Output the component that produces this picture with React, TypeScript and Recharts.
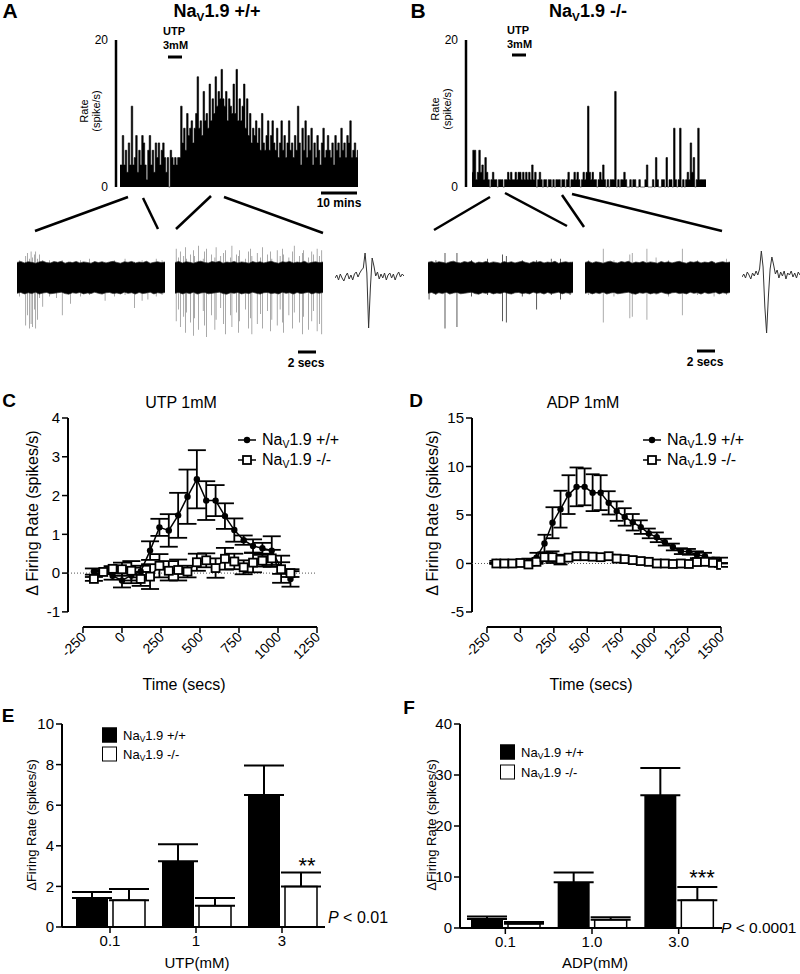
import React from 'react';
import {
  AreaChart,
  Area,
  ComposedChart,
  BarChart,
  Bar,
  LineChart,
  Line,
  XAxis,
  YAxis,
  ErrorBar,
  ReferenceLine,
} from 'recharts';

// ---- A / B : rate histograms (spike/s per bin) ----
const histA = [
  3, 3, 7, 3, 5, 2, 6, 3, 11, 3, 4, 7, 2, 5, 3, 7, 6, 3, 1, 5,
  7, 3, 5, 2, 6, 4, 6, 3, 5, 6, 4, 2, 4, 0, 5, 4, 3, 4, 3, 4,
  4, 11, 6, 8, 5, 10, 7, 8, 9, 6, 8, 10, 15, 8, 9, 7, 13, 9, 10, 8,
  14, 9, 12, 10, 15, 11, 13, 12, 16, 12, 11, 13, 9, 12, 11, 10, 14, 10, 16, 9,
  12, 9, 11, 14, 8, 12, 7, 10, 6, 8, 7, 9, 6, 8, 5, 10, 6, 5, 7, 9,
  5, 7, 9, 6, 5, 8, 4, 6, 9, 5, 7, 4, 6, 9, 5, 6, 4, 7, 5, 11,
  6, 3, 8, 5, 9, 4, 7, 5, 8, 3, 6, 4, 7, 5, 3, 6, 8, 4, 5, 7,
  5, 4, 6, 3, 7, 5, 6, 4, 8, 5, 6, 4, 7, 6, 9, 4, 5, 6, 4, 5,
];

const histB = [
  2, 5, 5, 1, 2, 5, 2, 3, 1, 4, 2, 1, 0, 1, 2, 1, 1, 0, 1, 1,
  1, 0, 1, 1, 2, 1, 2, 1, 1, 2, 1, 2, 2, 1, 2, 1, 2, 1, 2, 1,
  3, 1, 2, 0, 1, 2, 1, 0, 1, 1, 0, 1, 1, 0, 1, 0, 1, 1, 1, 0,
  1, 1, 0, 1, 2, 0, 1, 1, 2, 1, 2, 1, 0, 1, 2, 1, 2, 11, 2, 1,
  2, 1, 1, 0, 1, 2, 1, 3, 1, 0, 1, 0, 1, 1, 1, 13, 0, 1, 0, 1,
  1, 2, 1, 0, 0, 1, 0, 1, 1, 0, 0, 1, 0, 0, 0, 1, 3, 0, 0, 0,
  1, 0, 4, 1, 0, 0, 1, 1, 0, 4, 0, 1, 1, 0, 8, 1, 0, 1, 8, 0,
  1, 0, 1, 2, 1, 6, 2, 4, 0, 1, 8, 1, 1, 1, 1, 1,
];

// ---- raw traces: noise envelope every 0.5 s, spikes as [time (s), low, high] ----
const edgeHi = [
  1.05, 1.12, 1.02, 1.1, 1.06, 1.0, 1.09, 1.14, 1.04, 1.02, 1.11, 1.06, 1.13, 1.0, 1.08, 1.04, 1.12, 1.02, 1.09, 1.05,
  1.0, 1.11, 1.04, 1.1, 1.02, 1.08, 1.13, 1.05, 1.0, 1.1, 1.06, 1.12, 1.02, 1.08, 1.04, 1.13, 1.0, 1.06, 1.1, 1.04, 1.08,
];
const edgeLo = [
  -1.08, -1.02, -1.12, -1.04, -1.1, -1.0, -1.13, -1.06, -1.02, -1.11, -1.08, -1.04, -1.0, -1.1, -1.14, -1.04, -1.08, -1.02, -1.12, -1.06,
  -1.1, -1.0, -1.08, -1.13, -1.04, -1.02, -1.1, -1.06, -1.12, -1.0, -1.08, -1.04, -1.13, -1.02, -1.1, -1.06, -1.0, -1.12, -1.04, -1.08, -1.02,
];
const spikesA1 = [
  [0.3, -1.3, 1.2], [1.2, -3.3, 1.5], [1.45, -2.6, 1.7], [1.7, -3.5, 1.3], [1.9, -3.2, 1.8],
  [2.1, -3.4, 1.4], [2.35, -2.2, 1.6], [2.55, -3.5, 1.8], [2.8, -2.9, 1.3], [3.0, -1.4, 1.6],
  [3.5, -2.0, 1.2], [4.4, -1.3, 1.2], [5.3, -1.4, 1.1], [6.1, -2.6, 1.2], [7.2, -1.8, 1.1],
  [8.6, -1.3, 1.2], [9.8, -1.2, 1.3], [11.9, -1.6, 1.1], [13.2, -1.3, 1.2], [14.6, -1.2, 1.3],
  [15.9, -2.1, 1.1], [16.9, -1.6, 1.2], [17.7, -1.5, 1.1], [18.8, -1.3, 1.3], [19.6, -1.2, 1.2],
];
const spikesA2 = [
  [0.15, -3.0, 2.0], [0.5, -2.2, 1.4], [0.7, -3.4, 1.8], [1.2, -2.7, 1.5], [1.45, -3.8, 2.1],
  [1.6, -2.4, 1.3], [2.1, -3.1, 1.6], [2.5, -4.0, 1.9], [2.65, -2.8, 1.5], [3.2, -3.6, 2.2],
  [3.8, -2.3, 1.3], [4.0, -3.3, 1.8], [4.25, -4.1, 2.0], [4.9, -2.6, 1.6], [5.4, -3.6, 1.4],
  [5.55, -2.9, 2.1], [6.2, -2.1, 1.5], [6.6, -3.2, 1.7], [6.8, -3.9, 1.9], [7.5, -2.6, 1.4],
  [7.7, -3.4, 2.2], [8.3, -2.4, 1.6], [8.6, -3.8, 1.5], [8.75, -3.0, 1.9], [9.5, -2.2, 1.3],
  [9.9, -3.5, 1.8], [10.2, -2.8, 2.0], [10.4, -3.9, 1.5], [11.1, -3.2, 1.7], [11.6, -2.5, 1.4],
  [11.8, -3.5, 2.1], [12.5, -2.3, 1.6], [12.9, -3.7, 1.8], [13.1, -2.9, 1.3], [13.8, -3.3, 1.9],
  [14.2, -2.2, 1.5], [14.5, -3.1, 2.0], [14.7, -3.8, 1.6], [15.4, -2.6, 1.4], [15.9, -3.5, 1.8],
  [16.1, -2.4, 2.2], [16.8, -3.1, 1.5], [17.2, -3.9, 1.7], [17.35, -2.7, 1.9], [18.0, -3.6, 1.4],
  [18.5, -3.0, 1.8], [18.7, -2.3, 1.6], [19.2, -3.7, 2.0], [19.5, -3.2, 1.5], [19.85, -3.9, 1.9],
];
const spikesB1 = [
  [0.15, -1.5, 1.1], [1.1, -1.2, 1.2], [2.35, -3.5, 1.7], [4.0, -3.4, 1.7], [6.0, -1.3, 1.2],
  [8.2, -1.2, 1.3], [10.3, -3.0, 1.6], [10.8, -3.1, 1.5], [13.0, -1.3, 1.2], [15.0, -2.2, 1.2],
  [17.0, -1.2, 1.3], [18.3, -1.5, 1.3], [19.6, -1.2, 1.1],
];
const spikesB2 = [
  [0.5, -1.2, 1.2], [2.5, -3.1, 2.0], [4.0, -1.3, 1.2], [6.2, -2.8, 1.6], [6.5, -2.7, 1.7],
  [8.55, -2.9, 2.0], [9.8, -1.2, 1.4], [11.5, -1.3, 1.2], [13.4, -2.6, 2.0], [15.5, -1.2, 1.2],
  [17.8, -1.3, 1.1], [19.5, -1.2, 1.3],
];

// averaged spike waveforms (arbitrary units)
const waveA = [
  0, 3, -2, 4, 0, -3, 2, 5, -1, 3, -2, 4, 6, 1, 5, 8, 10, 25, 5, -50,
  -10, 20, 12, 2, 6, -1, 4, 0, 5, -2, 3, 5, 0, 4, -2, 3, 6, 1, 4, 2,
];
const waveB = [
  0, 3, -1, 5, 2, -2, 4, 1, 6, 2, 8, 26, 10, -30, -56, -20, 8, 20, 12, 3,
  7, -1, 5, 1, 6, -2, 4, 2, 6, 0, 4, -1, 5, 2,
];

// ---- C : UTP 1mM time course ----
const timeC = [-180, -120, -60, 0, 60, 120, 180, 240, 300, 360, 420, 480, 540, 600, 660, 720, 780, 840, 900, 960, 1020, 1080];
const wtC = [0.04, 0.03, -0.07, -0.19, -0.06, 0.04, 0.58, 1.18, 1.1, 1.49, 1.97, 2.42, 1.87, 1.87, 1.47, 1.11, 0.85, 0.7, 0.64, 0.58, 0.13, -0.15];
const wtCErr = [0.08, 0.05, 0.1, 0.18, 0.2, 0.15, 0.24, 0.22, 0.42, 0.58, 0.7, 0.75, 0.5, 0.4, 0.33, 0.3, 0.12, 0.17, 0.14, 0.37, 0.15, 0.2];
const koC = [-0.15, 0.03, 0.11, 0.1, 0.06, -0.15, -0.09, 0.19, 0.06, 0.08, 0.04, 0.28, 0.33, 0.13, 0.37, 0.3, 0.15, 0.27, 0.32, 0.38, 0.1, 0.0];
const koCErr = [0.05, 0.03, 0.07, 0.17, 0.25, 0.18, 0.32, 0.3, 0.25, 0.27, 0.15, 0.22, 0.18, 0.25, 0.28, 0.2, 0.18, 0.25, 0.15, 0.22, 0.35, 0.1];
const ticksCx = [-250, 0, 250, 500, 750, 1000, 1250];
const ticksCy = [-1, 0, 1, 2, 3, 4];

// ---- D : ADP 1mM time course ----
const timeD = [-180, -120, -60, 0, 60, 120, 180, 240, 300, 360, 420, 480, 540, 600, 660, 720, 780, 840, 900, 960, 1020, 1080, 1140, 1200, 1260, 1320, 1380, 1440, 1500];
const wtD = [0.17, 0.05, 0.05, 0.1, 0.2, 0.6, 2.06, 4.2, 5.6, 7.1, 7.9, 7.9, 7.3, 7.3, 6.25, 5.4, 4.8, 4.25, 3.75, 3.1, 2.7, 2.2, 1.7, 1.27, 1.2, 0.9, 0.75, 0.4, 0.3];
const wtDErr = [0.1, 0.1, 0.1, 0.15, 0.3, 0.5, 0.9, 1.6, 1.9, 2.0, 2.0, 1.9, 1.9, 1.8, 1.2, 1.0, 0.9, 0.85, 0.7, 0.5, 0.5, 0.35, 0.35, 0.3, 0.3, 0.35, 0.35, 0.2, 0.3];
const koD = [0.0, 0.0, 0.0, 0.05, -0.1, 0.17, 0.65, 0.65, 0.4, 0.6, 0.75, 0.75, 0.7, 0.65, 0.75, 0.5, 0.45, 0.35, 0.25, 0.17, 0.0, 0.0, -0.05, 0.0, -0.05, 0.15, 0.17, 0.07, -0.15];
const koDErr = [0.05, 0.05, 0.05, 0.05, 0.1, 0.2, 0.4, 0.6, 0.5, 0.2, 0.2, 0.15, 0.15, 0.15, 0.15, 0.15, 0.1, 0.1, 0.1, 0.1, 0.1, 0.05, 0.05, 0.05, 0.05, 0.1, 0.1, 0.1, 0.2];
const ticksDx = [-250, 0, 250, 500, 750, 1000, 1250, 1500];
const ticksDy = [-5, 0, 5, 10, 15];

// ---- E / F : dose response bars ----
const catsE = ['0.1', '1', '3'];
const wtE = [1.43, 3.24, 6.5];
const wtEErr = [0.3, 0.84, 1.45];
const koE = [1.32, 1.05, 2.0];
const koEErr = [0.55, 0.38, 0.68];

const catsF = ['0.1', '1.0', '3.0'];
const wtF = [1.77, 8.97, 26.05];
const wtFErr = [0.5, 1.9, 5.3];
const koF = [0.85, 1.64, 5.43];
const koFErr = [0.33, 0.45, 2.6];

const FONT = 'Arial, "Liberation Sans", Helvetica, sans-serif';

const dataHistA = histA.map((rate, i) => ({ i, rate }));
const dataHistB = histB.map((rate, i) => ({ i, rate }));
const toTrace = (rows: number[][]) => {
  const band = edgeHi.map((h, k) => ({ t: k * 0.5, band: [edgeLo[k], h] }));
  const spikes = rows.map(([t, lo, hi]) => ({ t, range: [lo, hi] }));
  return [...band, ...spikes].sort((a, b) => a.t - b.t);
};
const toWave = (vals: number[]) => vals.map((v, i) => ({ i, v }));
const dataC = timeC.map((t, i) => ({ t, wt: wtC[i], wtErr: wtCErr[i], ko: koC[i], koErr: koCErr[i] }));
const dataD = timeD.map((t, i) => ({ t, wt: wtD[i], wtErr: wtDErr[i], ko: koD[i], koErr: koDErr[i] }));
const dataE = catsE.map((cat, i) => ({ cat, wt: wtE[i], wtErr: [0, wtEErr[i]], ko: koE[i], koErr: [0, koEErr[i]] }));
const dataF = catsF.map((cat, i) => ({ cat, wt: wtF[i], wtErr: [0, wtFErr[i]], ko: koF[i], koErr: [0, koFErr[i]] }));

function Txt({ x, y, size = 15, bold = false, anchor = 'middle', rotate = 0, children, style = {} }: any) {
  const tx = anchor === 'start' ? '0' : anchor === 'end' ? '-100%' : '-50%';
  return (
    <div
      style={{
        position: 'absolute',
        left: x,
        top: y,
        transform: `translate(${tx}, -50%)${rotate ? ` rotate(${rotate}deg)` : ''}`,
        fontSize: size,
        fontWeight: bold ? 700 : 400,
        whiteSpace: 'nowrap',
        lineHeight: 1.1,
        textAlign: 'center',
        ...style,
      }}
    >
      {children}
    </div>
  );
}

function NaV({ tail }: { tail: string }) {
  return (
    <>
      Na<sub style={{ fontSize: '0.65em', verticalAlign: '-0.3em', lineHeight: 0 }}>V</sub>1.9 {tail}
    </>
  );
}

function Abs({ x, y, children }: any) {
  return <div style={{ position: 'absolute', left: x, top: y }}>{children}</div>;
}

const square = (size: number) => (props: any) => {
  const { cx, cy, index } = props;
  if (cx == null || cy == null) return <g key={index} />;
  return (
    <rect key={index} x={cx - size / 2} y={cy - size / 2} width={size} height={size} fill="#fff" stroke="#000" strokeWidth={1.8} />
  );
};

// rotated x tick label, text end sits just under the tick
function AngledTick({ x, y, payload }: any) {
  const ax = x + 4;
  const ay = y + 3;
  return (
    <text x={ax} y={ay} textAnchor="end" fontSize={14} fill="#000" transform={`rotate(-45 ${ax} ${ay})`}>
      {payload.value}
    </text>
  );
}

function Histogram({ data, left, yAxisW, padLeft, marginRight }: any) {
  return (
    <Abs x={left} y={30}>
      <AreaChart width={285} height={165} data={data} margin={{ top: 10, right: marginRight, bottom: 8, left: 0 }}>
        <XAxis type="number" dataKey="i" domain={[0, data.length - 1]} hide padding={{ left: padLeft, right: 0 }} />
        <YAxis
          width={yAxisW}
          domain={[0, 20]}
          ticks={[0, 20]}
          tickLine={false}
          axisLine={{ stroke: '#000', strokeWidth: 2.5 }}
          tick={{ fontSize: 12, fill: '#000' }}
        />
        <Area type="step" dataKey="rate" fill="#000" fillOpacity={1} stroke="#000" strokeWidth={0.6} isAnimationActive={false} />
      </AreaChart>
    </Abs>
  );
}

function Trace({ spikes, left, width }: any) {
  return (
    <Abs x={left} y={240}>
      <ComposedChart width={width} height={100} data={toTrace(spikes)} margin={{ top: 0, right: 0, bottom: 0, left: 0 }}>
        <XAxis type="number" dataKey="t" domain={[0, 20]} hide />
        <YAxis hide domain={[-4.3, 2.6]} allowDataOverflow />
        <Area type="linear" dataKey="band" fill="#000" fillOpacity={1} stroke="#333" strokeWidth={0.7} connectNulls isAnimationActive={false} />
        <Bar dataKey="range" fill="#000" barSize={1.6} isAnimationActive={false} />
      </ComposedChart>
    </Abs>
  );
}

function Wave({ vals, left, width, domain }: any) {
  return (
    <Abs x={left} y={240}>
      <LineChart width={width} height={100} data={toWave(vals)} margin={{ top: 0, right: 0, bottom: 0, left: 0 }}>
        <XAxis type="number" dataKey="i" domain={[0, vals.length - 1]} hide />
        <YAxis hide domain={domain} />
        <Line dataKey="v" stroke="#333" strokeWidth={1} dot={false} isAnimationActive={false} />
      </LineChart>
    </Abs>
  );
}

function TimeCourse({ data, left, yAxisW, marginRight, xDomain, yDomain, xTicks, yTicks, sq, cap }: any) {
  const yLow = yDomain[0];
  return (
    <Abs x={left} y={370}>
      <ComposedChart width={340} height={320} data={data} margin={{ top: 48, right: marginRight, bottom: 3, left: 0 }}>
        <XAxis
          type="number"
          dataKey="t"
          domain={xDomain}
          ticks={xTicks}
          allowDataOverflow
          axisLine={false}
          tickLine={{ stroke: '#000', strokeWidth: 1.5 }}
          tickSize={6}
          height={60}
          tick={<AngledTick />}
          interval={0}
        />
        <YAxis
          width={yAxisW}
          domain={yDomain}
          ticks={yTicks}
          allowDataOverflow
          axisLine={false}
          tickLine={{ stroke: '#000', strokeWidth: 1.5 }}
          tickSize={6}
          tick={{ fontSize: 15, fill: '#000' }}
          interval={0}
        />
        <ReferenceLine
          segment={[{ x: xDomain[0], y: yTicks[0] }, { x: xDomain[0], y: yTicks[yTicks.length - 1] }]}
          stroke="#000"
          strokeWidth={2}
          ifOverflow="visible"
        />
        <ReferenceLine
          segment={[{ x: xTicks[0], y: yLow }, { x: xTicks[xTicks.length - 1], y: yLow }]}
          stroke="#000"
          strokeWidth={2}
          ifOverflow="visible"
        />
        <ReferenceLine y={0} stroke="#555" strokeWidth={1} strokeDasharray="1 2" />
        <Line
          dataKey="wt"
          stroke="#000"
          strokeWidth={1.5}
          dot={{ r: 3.2, fill: '#000', stroke: '#000', strokeWidth: 0 }}
          isAnimationActive={false}
        >
          <ErrorBar dataKey="wtErr" width={cap} stroke="#000" strokeWidth={1.8} direction="y" />
        </Line>
        <Line dataKey="ko" stroke="#000" strokeWidth={1.5} dot={square(sq)} isAnimationActive={false}>
          <ErrorBar dataKey="koErr" width={cap} stroke="#000" strokeWidth={1.8} direction="y" />
        </Line>
      </ComposedChart>
    </Abs>
  );
}

function DoseBars({ data, left, yAxisW, yMax, yTicks, marginBottom, marginRight, padLeft }: any) {
  return (
    <Abs x={left} y={700}>
      <BarChart width={345} height={274} data={data} margin={{ top: 24, right: marginRight, bottom: marginBottom, left: 0 }} barGap={5}>
        <XAxis
          dataKey="cat"
          height={30}
          padding={{ left: padLeft, right: 0 }}
          axisLine={{ stroke: '#000', strokeWidth: 2 }}
          tickLine={{ stroke: '#000', strokeWidth: 1.5 }}
          tickSize={6}
          tick={{ fontSize: 15, fill: '#000' }}
        />
        <YAxis
          width={yAxisW}
          domain={[0, yMax]}
          ticks={yTicks}
          axisLine={{ stroke: '#000', strokeWidth: 2 }}
          tickLine={{ stroke: '#000', strokeWidth: 1.5 }}
          tickSize={6}
          tick={{ fontSize: 15, fill: '#000' }}
          interval={0}
        />
        <Bar dataKey="wt" fill="#000" barSize={32} isAnimationActive={false}>
          <ErrorBar dataKey="wtErr" width={20} stroke="#000" strokeWidth={2} direction="y" />
        </Bar>
        <Bar dataKey="ko" fill="#fff" stroke="#000" strokeWidth={1.5} barSize={32} isAnimationActive={false}>
          <ErrorBar dataKey="koErr" width={20} stroke="#000" strokeWidth={2} direction="y" />
        </Bar>
      </BarChart>
    </Abs>
  );
}

function LineLegend({ x, y, sq }: any) {
  const item = (filled: boolean, tail: string, dy: number) => (
    <div style={{ position: 'absolute', left: x, top: y + dy, transform: 'translateY(-50%)', display: 'flex', alignItems: 'center', fontSize: 16, whiteSpace: 'nowrap' }}>
      <svg width={22} height={12} style={{ marginRight: 4 }}>
        <line x1={2} y1={6} x2={20} y2={6} stroke="#000" strokeWidth={1.5} />
        {filled ? (
          <circle cx={11} cy={6} r={3.2} fill="#000" />
        ) : (
          <rect x={11 - sq / 2} y={6 - sq / 2} width={sq} height={sq} fill="#fff" stroke="#000" strokeWidth={1.8} />
        )}
      </svg>
      <span>
        <NaV tail={tail} />
      </span>
    </div>
  );
  return (
    <>
      {item(true, '+/+', 0)}
      {item(false, '-/-', 20)}
    </>
  );
}

function BarLegend({ x, y, gap }: any) {
  const item = (filled: boolean, tail: string, dy: number) => (
    <div style={{ position: 'absolute', left: x, top: y + dy, transform: 'translateY(-50%)', display: 'flex', alignItems: 'center', fontSize: 13, whiteSpace: 'nowrap' }}>
      <div style={{ width: 13, height: 13, background: filled ? '#000' : '#fff', border: '1.5px solid #000', marginRight: 6 }} />
      <span>
        <NaV tail={tail} />
      </span>
    </div>
  );
  return (
    <>
      {item(true, '+/+', 0)}
      {item(false, '-/-', gap)}
    </>
  );
}

function Overlay() {
  const lines = [
    [128, 197, 35, 231], [143, 198, 158, 229], [211, 196, 176, 229], [224, 197, 323, 233],
    [490, 197, 434, 230], [505, 193, 567, 226], [562, 195, 584, 227], [572, 194, 722, 231],
  ];
  const bars = [
    [168, 57, 182, 57], [512, 55, 526, 55], [321, 193, 357, 193], [298, 352, 316, 352], [697, 351, 715, 351],
  ];
  return (
    <svg width={800} height={974} style={{ position: 'absolute', left: 0, top: 0, pointerEvents: 'none' }}>
      {lines.map(([x1, y1, x2, y2], k) => (
        <line key={k} x1={x1} y1={y1} x2={x2} y2={y2} stroke="#000" strokeWidth={2.5} />
      ))}
      {bars.map(([x1, y1, x2, y2], k) => (
        <line key={'b' + k} x1={x1} y1={y1} x2={x2} y2={y2} stroke="#000" strokeWidth={3} />
      ))}
    </svg>
  );
}

export default function App() {
  return (
    <div style={{ position: 'absolute', left: 0, top: 0, width: 800, height: 974, background: '#fff', fontFamily: FONT, color: '#000', overflow: 'hidden' }}>
      {/* panel letters */}
      <Txt x={10} y={11} size={21} bold>A</Txt>
      <Txt x={418} y={11} size={21} bold>B</Txt>
      <Txt x={9} y={401} size={19} bold>C</Txt>
      <Txt x={416} y={401} size={19} bold>D</Txt>
      <Txt x={8} y={716} size={19} bold>E</Txt>
      <Txt x={409} y={708} size={19} bold>F</Txt>

      {/* A / B histograms */}
      <Txt x={217} y={12} size={18} bold><NaV tail="+/+" /></Txt>
      <Txt x={588} y={12} size={18} bold><NaV tail="-/-" /></Txt>
      <Histogram data={dataHistA} left={80} yAxisW={36} padLeft={4} marginRight={7} />
      <Histogram data={dataHistB} left={430} yAxisW={36} padLeft={6} marginRight={9} />
      <Txt x={90} y={111} size={11} rotate={-90}>Rate<br />(spike/s)</Txt>
      <Txt x={441} y={109} size={11} rotate={-90}>Rate<br />(spike/s)</Txt>
      <Txt x={163} y={31} size={11} bold anchor="start">UTP</Txt>
      <Txt x={163} y={45} size={11} bold anchor="start">3mM</Txt>
      <Txt x={507} y={30} size={11} bold anchor="start">UTP</Txt>
      <Txt x={507} y={44} size={11} bold anchor="start">3mM</Txt>
      <Txt x={339} y={204} size={12} bold>10 mins</Txt>

      {/* raw traces */}
      <Trace spikes={spikesA1} left={17} width={148} />
      <Trace spikes={spikesA2} left={175} width={148} />
      <Wave vals={waveA} left={335} width={69} domain={[-62, 38]} />
      <Trace spikes={spikesB1} left={428} width={145} />
      <Trace spikes={spikesB2} left={585} width={145} />
      <Wave vals={waveB} left={742} width={58} domain={[-63, 37]} />
      <Txt x={306} y={364} size={12} bold>2 secs</Txt>
      <Txt x={705} y={363} size={12} bold>2 secs</Txt>

      {/* C / D */}
      <Txt x={181} y={403} size={16}>UTP 1mM</Txt>
      <Txt x={583} y={403} size={16}>ADP 1mM</Txt>
      <TimeCourse data={dataC} left={0} yAxisW={68} marginRight={23} xDomain={[-346, 1250]} yDomain={[-1.39, 4]} xTicks={ticksCx} yTicks={ticksCy} sq={8} cap={9} />
      <TimeCourse data={dataD} left={400} yAxisW={72} marginRight={19} xDomain={[-362, 1500]} yDomain={[-6.55, 15]} xTicks={ticksDx} yTicks={ticksDy} sq={8} cap={7} />
      <LineLegend x={236} y={440} sq={8} />
      <LineLegend x={641} y={440} sq={8} />
      <Txt x={33} y={513} size={16} rotate={-90}>Δ Firing Rate (spikes/s)</Txt>
      <Txt x={433} y={513} size={16} rotate={-90}>Δ Firing Rate (spikes/s)</Txt>
      <Txt x={184} y={685} size={16}>Time (secs)</Txt>
      <Txt x={591} y={685} size={16}>Time (secs)</Txt>

      {/* E / F */}
      <DoseBars data={dataE} left={0} yAxisW={62} yMax={10} yTicks={[0, 2, 4, 6, 8, 10]} marginBottom={17} marginRight={20} padLeft={5} />
      <DoseBars data={dataF} left={400} yAxisW={60} yMax={40} yTicks={[0, 10, 20, 30, 40]} marginBottom={16} marginRight={23} padLeft={2} />
      <BarLegend x={102} y={735} gap={19} />
      <BarLegend x={500} y={752} gap={20} />
      <Txt x={32} y={825} size={13} rotate={-90}>ΔFiring Rate (spikes/s)</Txt>
      <Txt x={432} y={825} size={13} rotate={-90}>ΔFiring Rate (spikes/s)</Txt>
      <Txt x={197} y={963} size={15}>UTP(mM)</Txt>
      <Txt x={595} y={963} size={15}>ADP(mM)</Txt>
      <Txt x={307} y={866} size={22}>**</Txt>
      <Txt x={702} y={878} size={22}>***</Txt>
      <Txt x={328} y={918} size={16} anchor="start"><i>P</i> &lt; 0.01</Txt>
      <Txt x={721} y={928} size={15.5} anchor="start"><i>P</i> &lt; 0.0001</Txt>

      <Overlay />
    </div>
  );
}
